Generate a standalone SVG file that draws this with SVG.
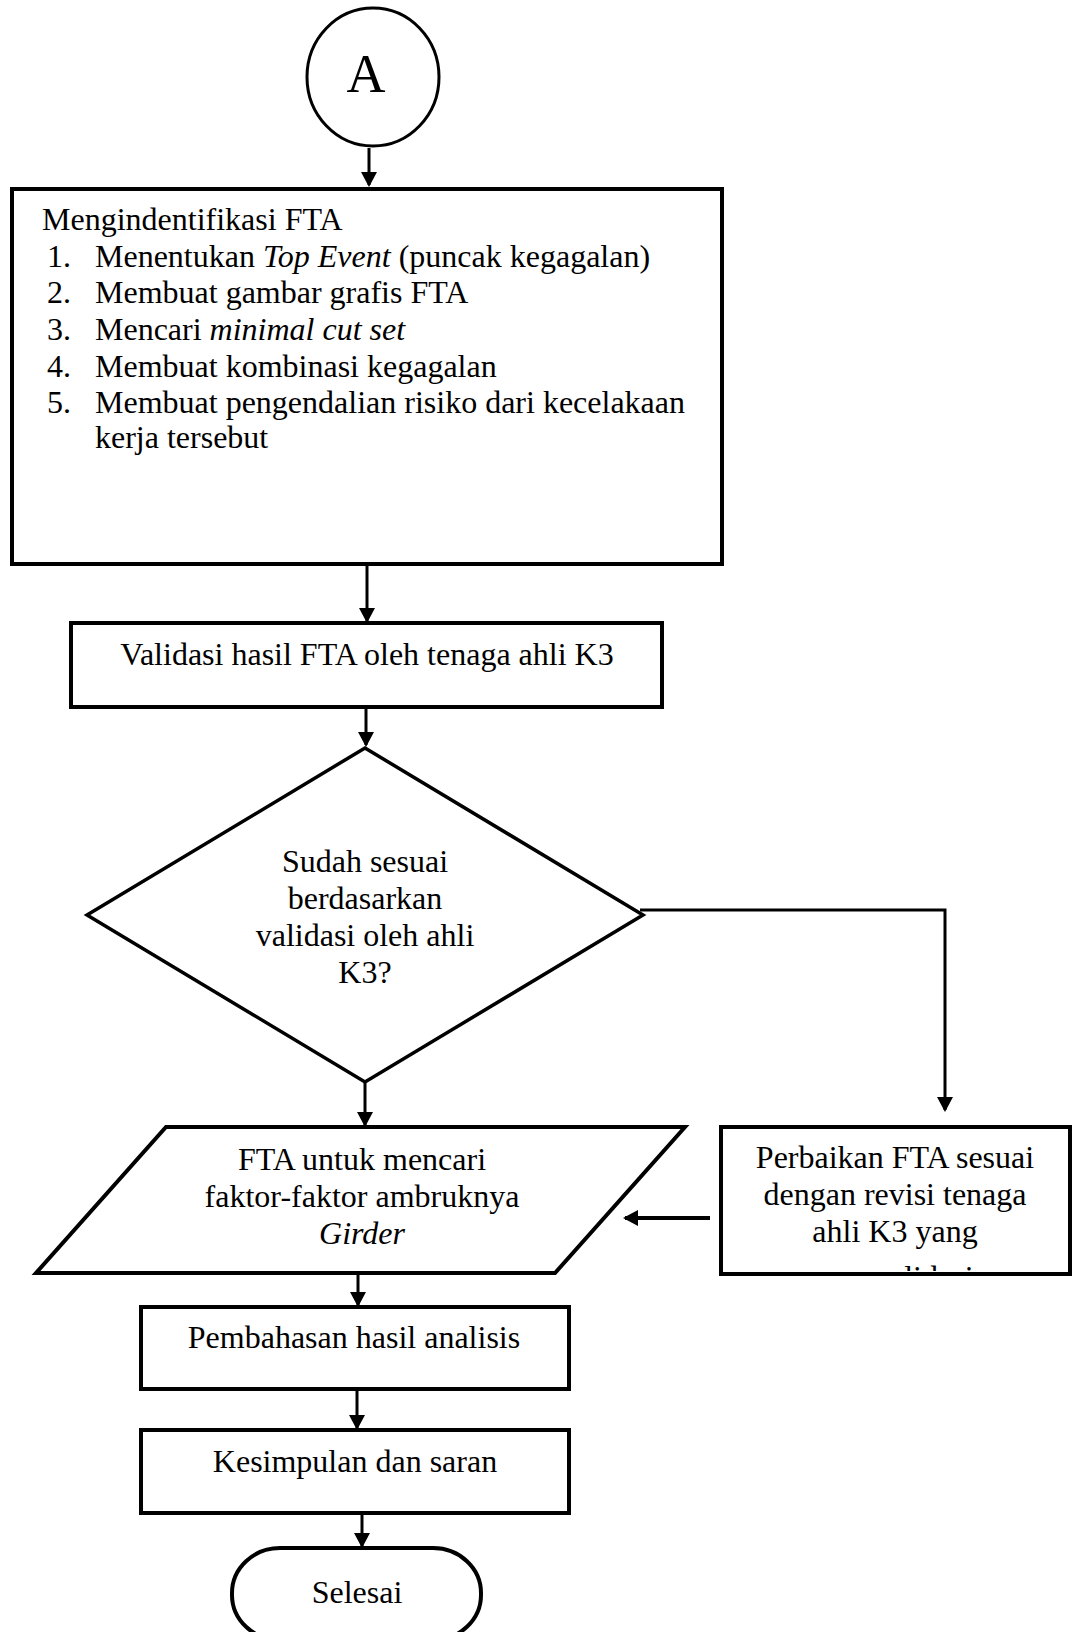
<svg xmlns="http://www.w3.org/2000/svg" width="1078" height="1632" viewBox="0 0 1078 1632">
<style>
  text { font-family: "Liberation Serif", "Times New Roman", serif; font-size: 32px; fill: #000; }
  .c { text-anchor: middle; }
  .shape { fill: #fff; stroke: #000; stroke-width: 4; }
  .conn { fill: none; stroke: #000; stroke-width: 3; }
  .it { font-style: italic; }
</style>
<defs>
  <marker id="ah" markerWidth="16" markerHeight="16" refX="13" refY="8" orient="auto" markerUnits="userSpaceOnUse">
    <path d="M0,0 L15,8 L0,16 z" fill="#000"/>
  </marker>
  <clipPath id="clipPerb">
    <rect x="723" y="1129" width="345" height="142"/>
  </clipPath>
</defs>

<rect x="0" y="0" width="1078" height="1632" fill="#fff"/>

<g id="connectors">
  <line class="conn" x1="369" y1="148" x2="369" y2="185" marker-end="url(#ah)"/>
  <line class="conn" x1="367" y1="564" x2="367" y2="621" marker-end="url(#ah)"/>
  <line class="conn" x1="366" y1="707" x2="366" y2="745" marker-end="url(#ah)"/>
  <line class="conn" x1="365" y1="1082" x2="365" y2="1125" marker-end="url(#ah)"/>
  <path class="conn" d="M640,910 H945 V1110" marker-end="url(#ah)"/>
  <line class="conn" style="stroke-width:4" x1="710" y1="1218" x2="625" y2="1218" marker-end="url(#ah)"/>
  <line class="conn" x1="358" y1="1273" x2="358" y2="1305" marker-end="url(#ah)"/>
  <line class="conn" x1="357" y1="1389" x2="357" y2="1428" marker-end="url(#ah)"/>
  <line class="conn" x1="362" y1="1513" x2="362" y2="1546" marker-end="url(#ah)"/>
</g>

<g id="node-A">
  <ellipse class="shape" style="stroke-width:3" cx="373" cy="77" rx="66" ry="69"/>
  <text class="c" x="366" y="92" style="font-size:54px">A</text>
</g>

<g id="node-identifikasi">
  <rect class="shape" x="12" y="189" width="710" height="375"/>
  <text x="42" y="230">Mengindentifikasi FTA</text>
  <text x="47" y="267">1.</text>
  <text x="95" y="267">Menentukan <tspan class="it">Top Event</tspan> (puncak kegagalan)</text>
  <text x="47" y="303">2.</text>
  <text x="95" y="303">Membuat gambar grafis FTA</text>
  <text x="47" y="340">3.</text>
  <text x="95" y="340">Mencari <tspan class="it">minimal cut set</tspan></text>
  <text x="47" y="377">4.</text>
  <text x="95" y="377">Membuat kombinasi kegagalan</text>
  <text x="47" y="413">5.</text>
  <text x="95" y="413">Membuat pengendalian risiko dari kecelakaan</text>
  <text x="95" y="448">kerja tersebut</text>
</g>

<g id="node-validasi">
  <rect class="shape" x="71" y="623" width="591" height="84"/>
  <text class="c" x="367" y="665">Validasi hasil FTA oleh tenaga ahli K3</text>
</g>

<g id="node-decision">
  <polygon class="shape" style="stroke-width:3.5" points="365,748 643,915 365,1082 87,915"/>
  <text class="c" x="365" y="872">Sudah sesuai</text>
  <text class="c" x="365" y="909">berdasarkan</text>
  <text class="c" x="365" y="946">validasi oleh ahli</text>
  <text class="c" x="365" y="983">K3?</text>
</g>

<g id="node-fta">
  <polygon class="shape" points="166,1127 685,1127 555,1273 36,1273"/>
  <text class="c" x="362" y="1170">FTA untuk mencari</text>
  <text class="c" x="362" y="1207">faktor-faktor ambruknya</text>
  <text class="c it" x="362" y="1244">Girder</text>
</g>

<g id="node-perbaikan">
  <rect class="shape" x="721" y="1127" width="349" height="147"/>
  <text class="c" x="895" y="1168">Perbaikan FTA sesuai</text>
  <text class="c" x="895" y="1205">dengan revisi tenaga</text>
  <text class="c" x="895" y="1242">ahli K3 yang</text>
  <text x="874" y="1288" clip-path="url(#clipPerb)">validasi</text>
</g>

<g id="node-pembahasan">
  <rect class="shape" x="141" y="1307" width="428" height="82"/>
  <text class="c" x="354" y="1348">Pembahasan hasil analisis</text>
</g>

<g id="node-kesimpulan">
  <rect class="shape" x="141" y="1430" width="428" height="83"/>
  <text class="c" x="355" y="1472">Kesimpulan dan saran</text>
</g>

<g id="node-selesai">
  <rect class="shape" x="232" y="1548" width="249" height="92" rx="48" ry="45"/>
  <text class="c" x="357" y="1603">Selesai</text>
</g>
</svg>
